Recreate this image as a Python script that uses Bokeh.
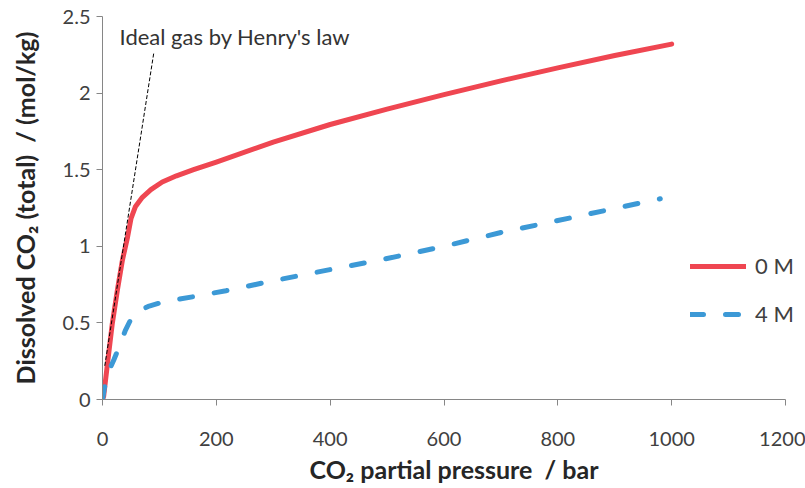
from bokeh.plotting import figure
from bokeh.models import Legend, LegendItem, Label, FixedTicker
from bokeh.embed import file_html
from bokeh.resources import INLINE

# CO2 solubility vs partial pressure, pure water (0 M) and 4 M brine
p_0m = [0, 2, 8, 17, 26, 35, 44, 50, 58, 70, 85, 105, 130, 160, 200, 300, 400, 500, 600, 700, 800, 900, 1000]
c_0m = [0, 0.02, 0.21, 0.49, 0.71, 0.91, 1.06, 1.18, 1.26, 1.32, 1.37, 1.42, 1.46, 1.50, 1.55, 1.68, 1.795, 1.895, 1.99, 2.08, 2.165, 2.245, 2.32]

p_4m = [0, 3, 8, 14, 20, 29, 40, 52, 65, 82, 110, 158, 217, 300, 400, 500, 600, 700, 800, 900, 980]
c_4m = [0, 0.07, 0.15, 0.21, 0.26, 0.34, 0.45, 0.54, 0.58, 0.61, 0.64, 0.67, 0.71, 0.775, 0.848, 0.92, 1.00, 1.09, 1.168, 1.247, 1.31]

# ideal-gas (Henry's law) reference line
henry_p = [4, 90]
henry_c = [0.22, 2.26]

x_ticks = [0, 200, 400, 600, 800, 1000, 1200]
x_tick_labels = ["0", "200", "400", "600", "800", "1000", "1200"]
y_ticks = [0, 0.5, 1, 1.5, 2, 2.5]
y_tick_labels = ["0", "0.5", "1", "1.5", "2", "2.5"]

FONT = "Lato"
AXIS_GREY = "#868686"
TEXT_GREY = "#404040"
NBSP = "\u00a0"

# the axis stops at 1200 bar; the frame runs a little further so the legend has room
X_AXIS_END = 1200
x_view_end = X_AXIS_END * 703 / 683

p = figure(width=805, height=488, output_backend="svg", toolbar_location=None,
           x_range=(0, x_view_end), y_range=(0, 2.5),
           min_border_left=102, min_border_right=0, min_border_top=16, min_border_bottom=89)
p.outline_line_color = None
p.xgrid.visible = False
p.ygrid.visible = False
p.background_fill_color = "white"
p.border_fill_color = "white"

r0 = p.line(p_0m, c_0m, line_color="#EF4651", line_width=5, line_cap="round", line_join="round")
r4 = p.line(p_4m, c_4m, line_color="#3C99D6", line_width=5, line_cap="round", line_join="round",
            line_dash="13 22")
p.line(henry_p, henry_c, line_color="black", line_width=1, line_dash="4 2")

for ax, ticks, labels in ((p.xaxis[0], x_ticks, x_tick_labels), (p.yaxis[0], y_ticks, y_tick_labels)):
    ax.ticker = FixedTicker(ticks=ticks)
    ax.major_label_overrides = {t: l for t, l in zip(ticks, labels)}
    ax.minor_tick_line_color = None
    ax.axis_line_color = AXIS_GREY
    ax.major_tick_line_color = AXIS_GREY
    ax.major_tick_in = 0
    ax.major_tick_out = 6
    ax.major_label_text_font = FONT
    ax.major_label_text_font_size = "20px"
    ax.major_label_text_color = TEXT_GREY
    ax.axis_label_text_font = FONT
    ax.axis_label_text_font_style = "bold"
    ax.axis_label_text_color = "#262626"

p.xaxis[0].bounds = (0, X_AXIS_END)
p.xaxis[0].axis_label = "CO\u2082 partial pressure " + NBSP + "/ bar"
p.xaxis[0].axis_label_text_font_size = "25px"
p.xaxis[0].major_label_standoff = 26
p.xaxis[0].axis_label_standoff = 5
p.yaxis[0].axis_label = "Dissolved CO\u2082 (total) " + NBSP + "/ (mol/kg)"
p.yaxis[0].axis_label_text_font_size = "25px"
p.yaxis[0].major_label_standoff = 6
p.yaxis[0].axis_label_standoff = 20

p.add_layout(Label(x=30, y=2.37, text="Ideal gas by Henry's law", text_font=FONT,
                   text_font_size="22px", text_color="#333333", text_baseline="middle"))

legend = Legend(items=[LegendItem(label="0 M", renderers=[r0]),
                       LegendItem(label="4 M", renderers=[r4])],
                location=(588, 72), orientation="vertical",
                border_line_color=None, background_fill_alpha=0,
                padding=0, margin=0, spacing=21,
                glyph_width=56, glyph_height=24, label_height=24,
                label_standoff=9, label_text_font=FONT, label_text_font_size="22px",
                label_text_color=TEXT_GREY)
p.add_layout(legend)

open("out.html", "w").write(file_html(p, INLINE))
